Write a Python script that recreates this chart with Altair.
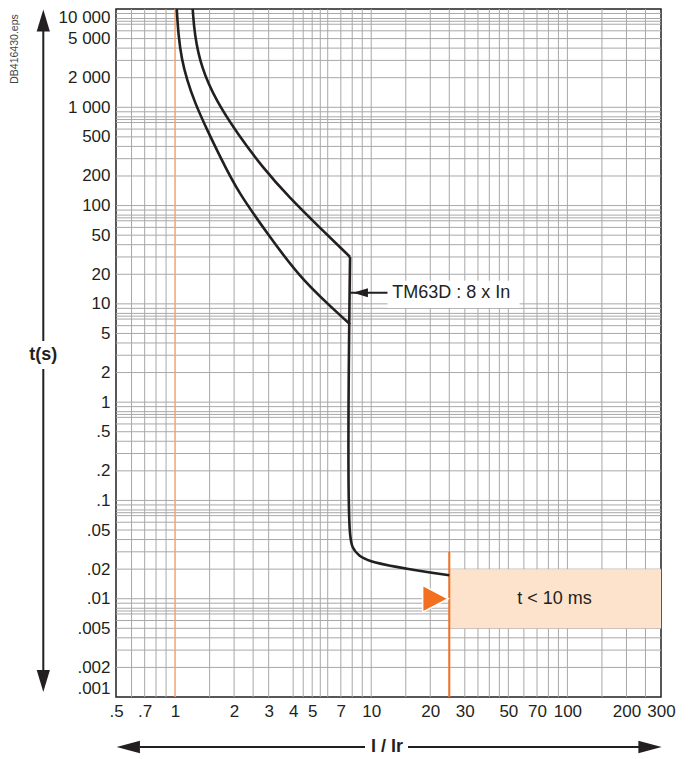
import altair as alt
import pandas as pd

# ---------------- data ----------------
x_ticks = [0.5, 0.7, 1, 2, 3, 4, 5, 7, 10, 20, 30, 50, 70, 100, 200, 300]
x_labels = [".5", ".7", "1", "2", "3", "4", "5", "7", "10", "20", "30", "50", "70", "100", "200", "300"]
y_ticks = [10000, 5000, 2000, 1000, 500, 200, 100, 50, 20, 10, 5, 2, 1,
           0.5, 0.2, 0.1, 0.05, 0.02, 0.01, 0.005, 0.002, 0.001]
y_labels = ["10 000", "5 000", "2 000", "1 000", "500", "200", "100", "50", "20", "10", "5", "2", "1",
            ".5", ".2", ".1", ".05", ".02", ".01", ".005", ".002", ".001"]

x_grid = [0.6, 0.7, 0.8, 0.9, 1.5, 2, 2.5, 3, 4, 4.5, 5, 5.5, 6, 7, 8, 9, 10,
          15, 20, 25, 30, 35, 40, 45, 50, 60, 70, 80, 90, 100, 150, 200, 250]
y_grid_decades = [0.001, 0.01, 0.1, 1, 10, 100, 1000]
y_grid_steps = [1, 2, 3, 4, 5, 6, 7, 7.5, 8, 9]

# long-time curves (max / min)
upper_x = [1.23, 1.256, 1.36, 1.62, 2.09, 2.8, 3.83, 5.45, 7.8]
upper_y = [10000, 5520, 2525, 1160, 532, 243, 120, 60, 30]
lower_x = [1.02, 1.04, 1.08, 1.15, 1.26, 1.45, 1.69, 2.1, 3.0, 4.4, 7.8]
lower_y = [10000, 5400, 3100, 1900, 1120, 600, 320, 135, 50, 17.5, 6.2]
# magnetic threshold + tail
tail_x = [7.8, 7.8, 8.05, 8.7, 10, 25]
tail_y = [30, 0.046, 0.0334, 0.0275, 0.0241, 0.0173]

in_line_x = [1]
limit_x = [25]
limit_y = [0.03]
limit_y2 = [0.001]
zone_x = [25]
zone_x2 = [300]
zone_y = [0.02]
zone_y2 = [0.005]
zone_text = ["t < 10 ms"]
zone_text_x = [86]
zone_text_y = [0.01]
marker_x = [25]
marker_y = [0.01]

ann_text = ["TM63D : 8 x In"]
ann_x = [12.8]
ann_y = [13]
ann_box_x = [12.1]
ann_box_x2 = [57]
ann_box_y = [17.2]
ann_box_y2 = [9.1]
ann_arrow_x = [7.8]
ann_arrow_x2 = [12.1]

# ---------------- style ----------------
FONT = "Liberation Sans"
DARK = "#231f20"
GRID = "#a8a8a8"
ORANGE = "#F37021"


def label_expr(vals, labs):
    expr = "''"
    for v, l in reversed(list(zip(vals, labs))):
        tol = abs(v) * 1e-6
        expr = f"(abs(datum.value - {v}) < {tol:.12f}) ? '{l}' : ({expr})"
    return expr


xs = alt.Scale(type="log", domain=[0.5, 300], nice=False)
ys = alt.Scale(type="log", domain=[0.001, 10000], nice=False)

x_axis = alt.Axis(values=x_ticks, labelExpr=label_expr(x_ticks, x_labels), grid=False, ticks=False,
                  domain=False, labelFontSize=17, labelFont=FONT, labelColor=DARK, labelPadding=6,
                  labelFlush=False, labelOverlap=False, labelAngle=0, title=None)
y_axis = alt.Axis(values=y_ticks, labelExpr=label_expr(y_ticks, y_labels), grid=False, ticks=False,
                  domain=False, labelFontSize=17, labelFont=FONT, labelColor=DARK, labelPadding=6,
                  labelFlush=True, labelOverlap=False, title=None)


def X(f):
    return alt.X(f"{f}:Q", scale=xs, axis=x_axis)


def Y(f):
    return alt.Y(f"{f}:Q", scale=ys, axis=y_axis)


y_grid = [d * s for d in y_grid_decades for s in y_grid_steps][1:]

one = pd.DataFrame({"a": [0]})

xgrid = alt.Chart(pd.DataFrame({"v": x_grid})).mark_rule(color=GRID, strokeWidth=1).encode(x=X("v"))
ygrid = alt.Chart(pd.DataFrame({"v": y_grid})).mark_rule(color=GRID, strokeWidth=1).encode(y=Y("v"))

in_line = alt.Chart(pd.DataFrame({"v": in_line_x})).mark_rule(color="#F5A273", strokeWidth=1.5).encode(x=X("v"))

zone = alt.Chart(pd.DataFrame({"x": zone_x, "x2": zone_x2, "y": zone_y, "y2": zone_y2})).mark_rect(
    fill="#FDE2CC").encode(x=X("x"), x2="x2:Q", y=Y("y"), y2="y2:Q")

limit = alt.Chart(pd.DataFrame({"x": limit_x, "y": limit_y, "y2": limit_y2})).mark_rule(
    color=ORANGE, strokeWidth=2).encode(x=X("x"), y=Y("y"), y2="y2:Q")

ann_box = alt.Chart(pd.DataFrame({"x": ann_box_x, "x2": ann_box_x2, "y": ann_box_y, "y2": ann_box_y2})).mark_rect(
    fill="white").encode(x=X("x"), x2="x2:Q", y=Y("y"), y2="y2:Q")

curves_df = pd.concat([
    pd.DataFrame({"x": upper_x, "y": upper_y, "curve": "max", "i": range(len(upper_x))}),
    pd.DataFrame({"x": lower_x, "y": lower_y, "curve": "min", "i": range(len(lower_x))}),
])
curves = alt.Chart(curves_df).mark_line(interpolate="basis", strokeWidth=2.6, color=DARK).encode(
    x=X("x"), y=Y("y"), detail="curve:N", order="i:Q")

tail = alt.Chart(pd.DataFrame({"x": tail_x, "y": tail_y, "i": range(len(tail_x))})).mark_line(
    interpolate="catmull-rom", strokeWidth=2.6, color=DARK).encode(x=X("x"), y=Y("y"), order="i:Q")

ann_arrow = alt.Chart(pd.DataFrame({"x": ann_arrow_x, "x2": ann_arrow_x2, "y": ann_y})).mark_rule(
    color=DARK, strokeWidth=2).encode(x=X("x"), x2="x2:Q", y=Y("y"))
ann_head = alt.Chart(pd.DataFrame({"x": ann_arrow_x, "y": ann_y})).mark_point(
    shape="M-1,0L1,-0.6L1,0.6Z", size=225, filled=True, opacity=1, color=DARK, xOffset=10.4).encode(
    x=X("x"), y=Y("y"))
ann = alt.Chart(pd.DataFrame({"x": ann_x, "y": ann_y, "t": ann_text})).mark_text(
    align="left", baseline="middle", fontSize=18, font=FONT, color=DARK).encode(x=X("x"), y=Y("y"), text="t:N")

zone_lbl = alt.Chart(pd.DataFrame({"x": zone_text_x, "y": zone_text_y, "t": zone_text})).mark_text(
    align="center", baseline="middle", fontSize=18, font=FONT, color=DARK).encode(x=X("x"), y=Y("y"), text="t:N")

marker = alt.Chart(pd.DataFrame({"x": marker_x, "y": marker_y})).mark_point(
    shape="M1,0L-0.9,-1L-0.9,1Z", size=729, filled=True, opacity=1, fill=ORANGE, stroke="white",
    strokeWidth=1.5, xOffset=-14.5).encode(x=X("x"), y=Y("y"))

# ---------------- decorations (outside plot) ----------------
db = alt.Chart(one).mark_text(text="DB416430.eps", angle=270, fontSize=10.5, font=FONT, color="#444",
                              align="center", baseline="middle").encode(x=alt.value(-101), y=alt.value(40))

v_shaft1 = alt.Chart(one).mark_rule(color=DARK, strokeWidth=2).encode(
    x=alt.value(-72.7), y=alt.value(22), y2=alt.value(332))
v_shaft2 = alt.Chart(one).mark_rule(color=DARK, strokeWidth=2).encode(
    x=alt.value(-72.7), y=alt.value(360), y2=alt.value(662))
v_head1 = alt.Chart(one).mark_point(shape="M0,-1L0.6,1L-0.6,1Z", size=484, filled=True, opacity=1,
                                    color=DARK).encode(x=alt.value(-72.7), y=alt.value(11.5))
v_head2 = alt.Chart(one).mark_point(shape="M0,1L0.6,-1L-0.6,-1Z", size=484, filled=True, opacity=1,
                                    color=DARK).encode(x=alt.value(-72.7), y=alt.value(672))
t_lbl = alt.Chart(one).mark_text(text="t(s)", fontSize=18, fontWeight="bold", font=FONT, color=DARK,
                                 align="center", baseline="middle").encode(x=alt.value(-72.7), y=alt.value(346))

h_shaft1 = alt.Chart(one).mark_rule(color=DARK, strokeWidth=2).encode(
    x=alt.value(24), x2=alt.value(249), y=alt.value(738))
h_shaft2 = alt.Chart(one).mark_rule(color=DARK, strokeWidth=2).encode(
    x=alt.value(292), x2=alt.value(523), y=alt.value(738))
h_head1 = alt.Chart(one).mark_point(shape="M-1,0L1,-0.53L1,0.53Z", size=543, filled=True, opacity=1,
                                    color=DARK).encode(x=alt.value(12.3), y=alt.value(738))
h_head2 = alt.Chart(one).mark_point(shape="M1,0L-1,-0.53L-1,0.53Z", size=543, filled=True, opacity=1,
                                    color=DARK).encode(x=alt.value(534), y=alt.value(738))
i_lbl = alt.Chart(one).mark_text(text="I / Ir", fontSize=18, fontWeight="bold", font=FONT, color=DARK,
                                 align="center", baseline="middle").encode(x=alt.value(271), y=alt.value(738))

chart = alt.layer(
    xgrid, ygrid, in_line, zone, limit, ann_box, curves, tail, ann_arrow, ann_head, ann, zone_lbl, marker,
    db, v_shaft1, v_shaft2, v_head1, v_head2, t_lbl, h_shaft1, h_shaft2, h_head1, h_head2, i_lbl,
).properties(
    width=545, height=688,
    autosize=alt.AutoSizeParams(type="none"),
    padding={"left": 108, "top": 1, "right": 22, "bottom": 58},
).configure_view(stroke=DARK, strokeWidth=1.5)

chart.save("out.html", embed_options={"renderer": "svg", "actions": False})
